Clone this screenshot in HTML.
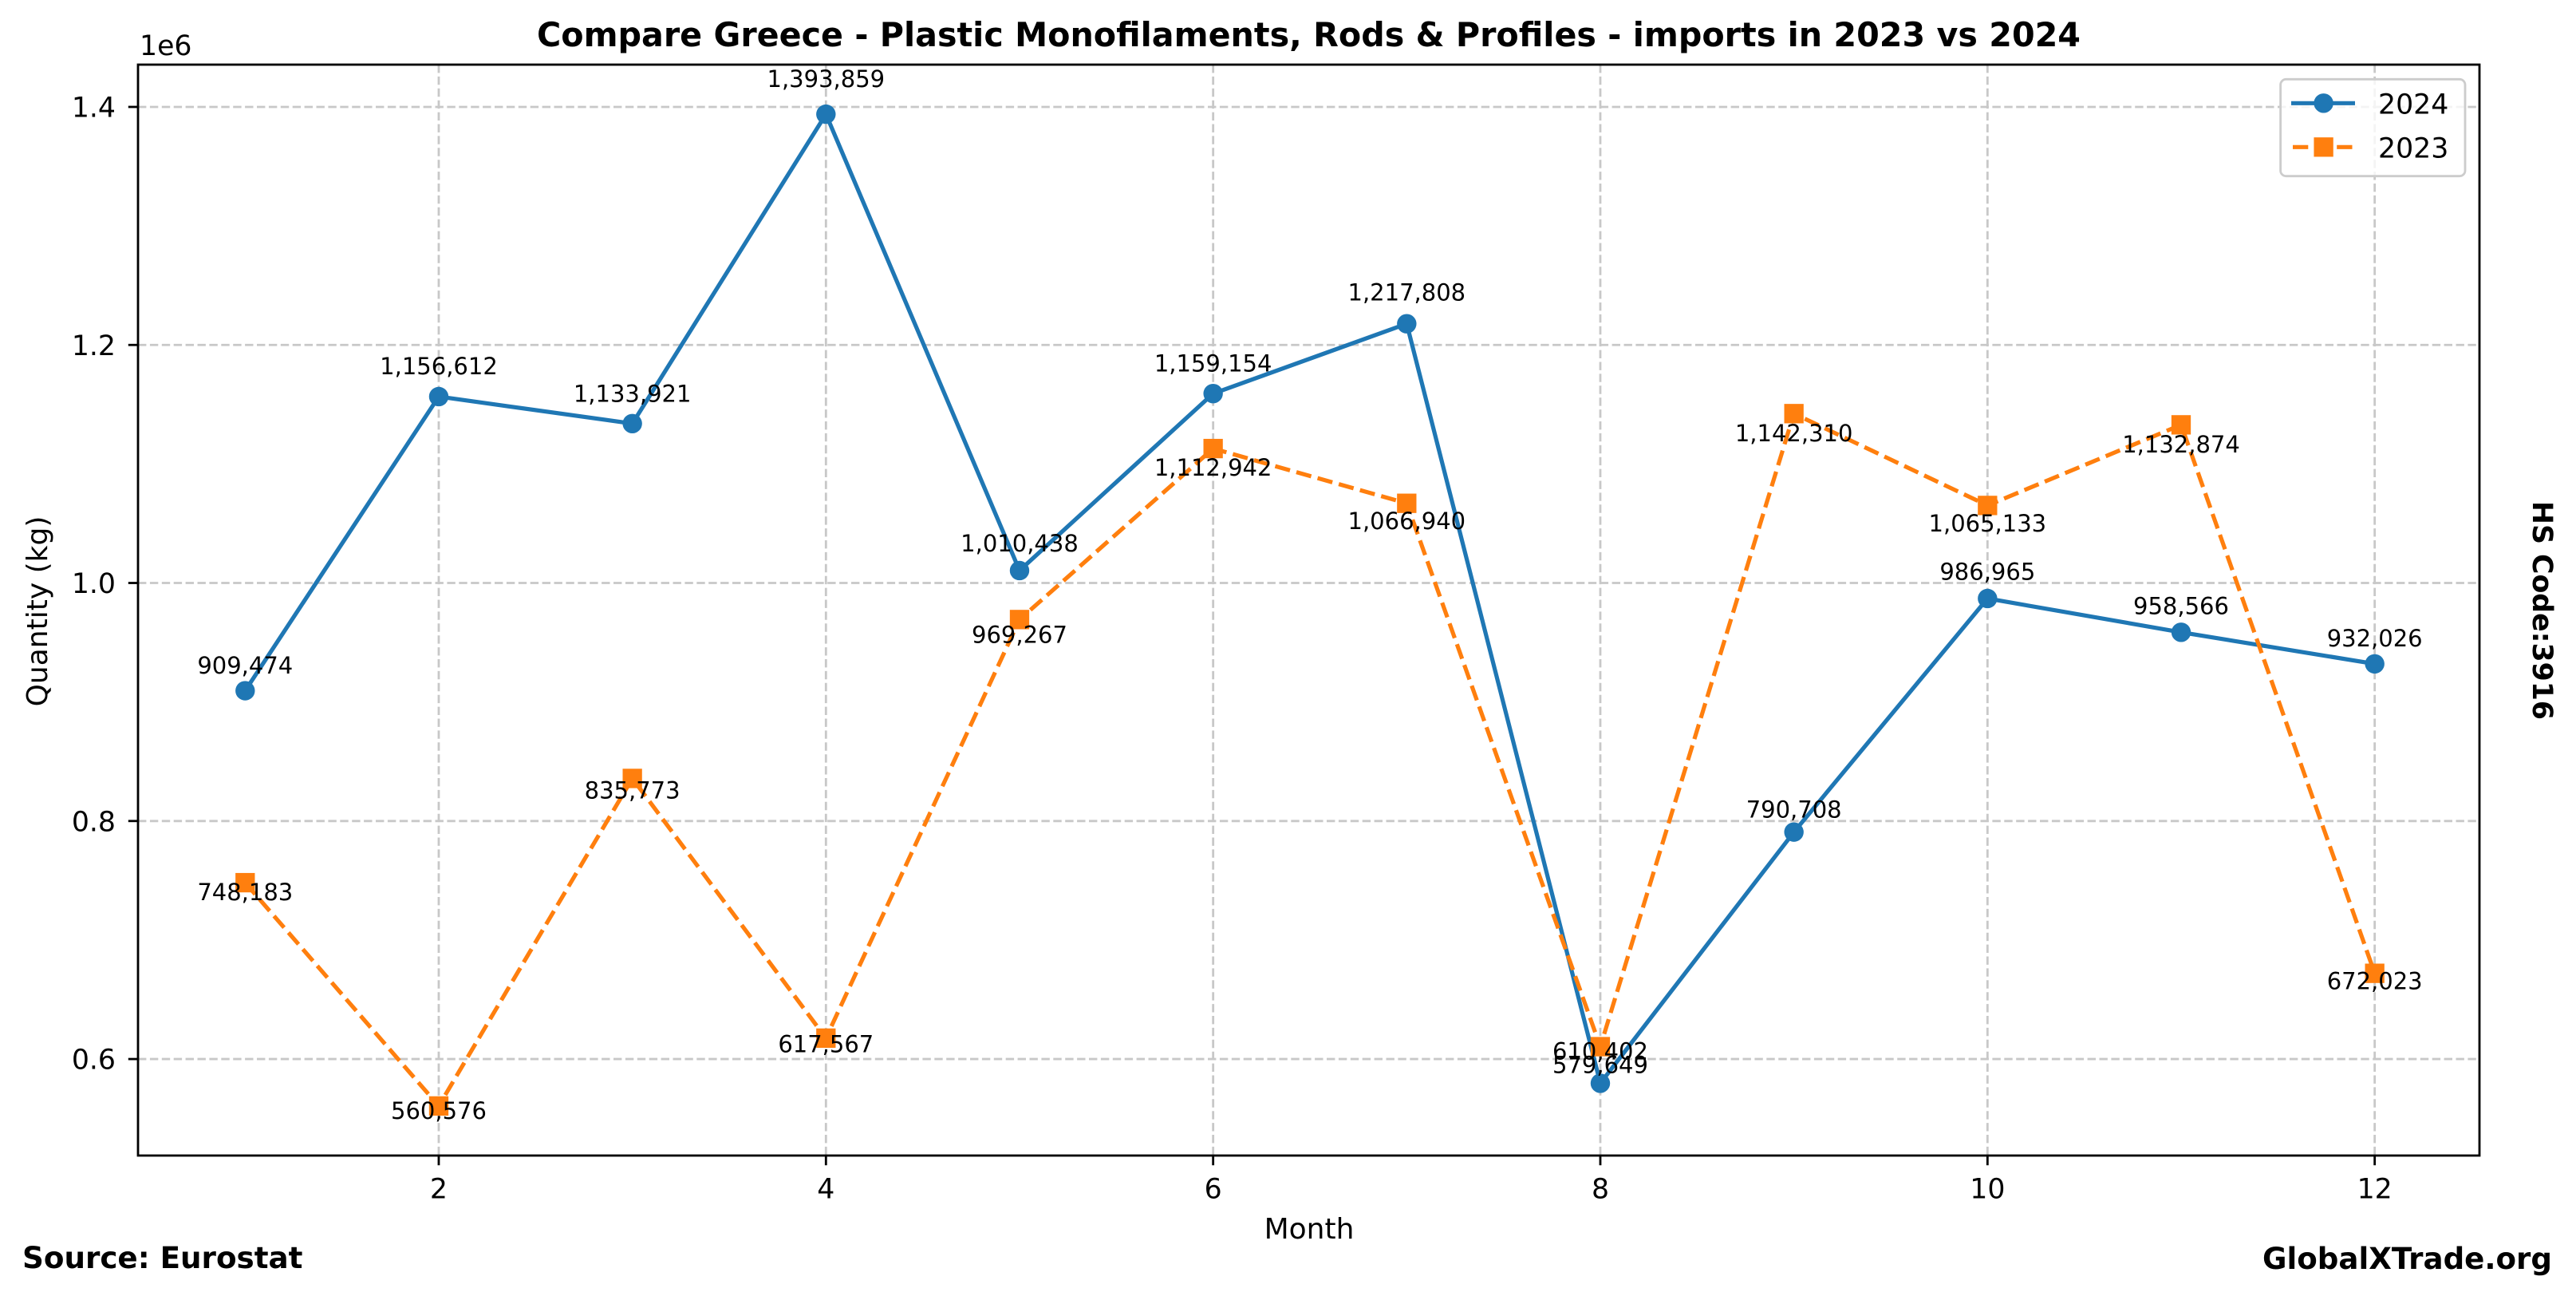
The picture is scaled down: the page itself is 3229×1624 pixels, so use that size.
<!DOCTYPE html>
<html><head><meta charset="utf-8"><style>
html,body{margin:0;padding:0;background:#fff;}
svg{display:block;}
text{font-family:"DejaVu Sans","Liberation Sans",sans-serif;}
</style></head><body>
<svg xmlns="http://www.w3.org/2000/svg" width="3229" height="1624" viewBox="0 0 3229 1624">
<rect width="3229" height="1624" fill="#fff"/>
<!-- grid -->
<g stroke="#c8c8c8" stroke-width="2.8" stroke-dasharray="10.4 4.5" fill="none">
<line x1="549.97" y1="81" x2="549.97" y2="1448"/>
<line x1="1035.31" y1="81" x2="1035.31" y2="1448"/>
<line x1="1520.65" y1="81" x2="1520.65" y2="1448"/>
<line x1="2005.99" y1="81" x2="2005.99" y2="1448"/>
<line x1="2491.33" y1="81" x2="2491.33" y2="1448"/>
<line x1="2976.67" y1="81" x2="2976.67" y2="1448"/>
<line x1="173" y1="1327.07" x2="3108" y2="1327.07"/>
<line x1="173" y1="1028.79" x2="3108" y2="1028.79"/>
<line x1="173" y1="730.52" x2="3108" y2="730.52"/>
<line x1="173" y1="432.25" x2="3108" y2="432.25"/>
<line x1="173" y1="133.98" x2="3108" y2="133.98"/>
</g>
<!-- 2024 -->
<polyline fill="none" stroke="#1f77b4" stroke-width="5.2" stroke-linejoin="round" stroke-linecap="square" points="307.3,865.53 549.97,496.96 792.64,530.80 1035.31,143.13 1277.98,714.96 1520.65,493.17 1763.32,405.69 2005.99,1357.42 2248.66,1042.65 2491.33,749.96 2734.0,792.31 2976.67,831.89"/>
<g fill="#1f77b4">
<circle cx="307.3" cy="865.53" r="12.2"/>
<circle cx="549.97" cy="496.96" r="12.2"/>
<circle cx="792.64" cy="530.80" r="12.2"/>
<circle cx="1035.31" cy="143.13" r="12.2"/>
<circle cx="1277.98" cy="714.96" r="12.2"/>
<circle cx="1520.65" cy="493.17" r="12.2"/>
<circle cx="1763.32" cy="405.69" r="12.2"/>
<circle cx="2005.99" cy="1357.42" r="12.2"/>
<circle cx="2248.66" cy="1042.65" r="12.2"/>
<circle cx="2491.33" cy="749.96" r="12.2"/>
<circle cx="2734.0" cy="792.31" r="12.2"/>
<circle cx="2976.67" cy="831.89" r="12.2"/>
</g>
<!-- 2023 -->
<polyline fill="none" stroke="#ff7f0e" stroke-width="5.2" stroke-dasharray="19.3 8.3" stroke-linejoin="round" points="307.3,1106.07 549.97,1385.86 792.64,975.44 1035.31,1300.86 1277.98,776.35 1520.65,562.08 1763.32,630.69 2005.99,1311.55 2248.66,518.29 2491.33,633.38 2734.0,532.36 2976.67,1219.65"/>
<g fill="#ff7f0e">
<rect x="295.15" y="1093.92" width="24.3" height="24.3"/>
<rect x="537.82" y="1373.71" width="24.3" height="24.3"/>
<rect x="780.49" y="963.29" width="24.3" height="24.3"/>
<rect x="1023.16" y="1288.71" width="24.3" height="24.3"/>
<rect x="1265.83" y="764.2" width="24.3" height="24.3"/>
<rect x="1508.5" y="549.93" width="24.3" height="24.3"/>
<rect x="1751.17" y="618.54" width="24.3" height="24.3"/>
<rect x="1993.84" y="1299.4" width="24.3" height="24.3"/>
<rect x="2236.51" y="506.14" width="24.3" height="24.3"/>
<rect x="2479.18" y="621.23" width="24.3" height="24.3"/>
<rect x="2721.85" y="520.21" width="24.3" height="24.3"/>
<rect x="2964.52" y="1207.5" width="24.3" height="24.3"/>
</g>
<!-- data labels -->
<g font-size="29" text-anchor="middle" fill="#000">
<text x="307.3" y="844.1">909,474</text>
<text x="549.97" y="469.1">1,156,612</text>
<text x="792.64" y="503.5">1,133,921</text>
<text x="1035.31" y="109.2">1,393,859</text>
<text x="1277.98" y="690.9">1,010,438</text>
<text x="1520.65" y="465.3">1,159,154</text>
<text x="1763.32" y="376.3">1,217,808</text>
<text x="2005.99" y="1344.5">579,649</text>
<text x="2248.66" y="1024.3">790,708</text>
<text x="2491.33" y="726.5">986,965</text>
<text x="2734.0" y="769.6">958,566</text>
<text x="2976.67" y="809.8">932,026</text>
<text x="307.3" y="1128.2">748,183</text>
<text x="549.97" y="1401.8">560,576</text>
<text x="792.64" y="1000.4">835,773</text>
<text x="1035.31" y="1318.7">617,567</text>
<text x="1277.98" y="805.7">969,267</text>
<text x="1520.65" y="596.1">1,112,942</text>
<text x="1763.32" y="663.2">1,066,940</text>
<text x="2005.99" y="1327.5">610,402</text>
<text x="2248.66" y="553.2">1,142,310</text>
<text x="2491.33" y="665.8">1,065,133</text>
<text x="2734.0" y="567.0">1,132,874</text>
<text x="2976.67" y="1239.3">672,023</text>
</g>
<!-- spines -->
<rect x="173" y="81" width="2935" height="1367" fill="none" stroke="#000" stroke-width="2.8"/>
<!-- ticks -->
<g stroke="#000" stroke-width="2.8">
<line x1="549.97" y1="1448" x2="549.97" y2="1460.2"/>
<line x1="1035.31" y1="1448" x2="1035.31" y2="1460.2"/>
<line x1="1520.65" y1="1448" x2="1520.65" y2="1460.2"/>
<line x1="2005.99" y1="1448" x2="2005.99" y2="1460.2"/>
<line x1="2491.33" y1="1448" x2="2491.33" y2="1460.2"/>
<line x1="2976.67" y1="1448" x2="2976.67" y2="1460.2"/>
<line x1="160.8" y1="1327.07" x2="173" y2="1327.07"/>
<line x1="160.8" y1="1028.79" x2="173" y2="1028.79"/>
<line x1="160.8" y1="730.52" x2="173" y2="730.52"/>
<line x1="160.8" y1="432.25" x2="173" y2="432.25"/>
<line x1="160.8" y1="133.98" x2="173" y2="133.98"/>
</g>
<g font-size="34.7" fill="#000" text-anchor="middle">
<text x="549.97" y="1501.5">2</text>
<text x="1035.31" y="1501.5">4</text>
<text x="1520.65" y="1501.5">6</text>
<text x="2005.99" y="1501.5">8</text>
<text x="2491.33" y="1501.5">10</text>
<text x="2976.67" y="1501.5">12</text>
</g>
<g font-size="34.7" fill="#000" text-anchor="end">
<text x="145" y="1339.7">0.6</text>
<text x="145" y="1041.4">0.8</text>
<text x="145" y="743.2">1.0</text>
<text x="145" y="444.9">1.2</text>
<text x="145" y="146.6">1.4</text>
</g>
<text x="175" y="69" font-size="34.7" fill="#000">1e6</text>
<!-- axis labels -->
<text x="1641" y="1552" font-size="36" text-anchor="middle" fill="#000">Month</text>
<text transform="translate(59,766) rotate(-90)" font-size="36" text-anchor="middle" fill="#000">Quantity (kg)</text>
<!-- title -->
<text x="1640.5" y="58" font-size="41.7" font-weight="bold" text-anchor="middle" fill="#000" textLength="1935" lengthAdjust="spacingAndGlyphs">Compare Greece - Plastic Monofilaments, Rods &amp; Profiles - imports in 2023 vs 2024</text>
<!-- side texts -->
<text transform="translate(3175,765) rotate(90)" font-size="34.7" font-weight="bold" text-anchor="middle" fill="#000">HS Code:3916</text>
<text x="28" y="1589" font-size="37.5" font-weight="bold" fill="#000" textLength="351.5" lengthAdjust="spacingAndGlyphs">Source: Eurostat</text>
<text x="3199" y="1590" font-size="37.5" font-weight="bold" text-anchor="end" fill="#000" textLength="363" lengthAdjust="spacingAndGlyphs">GlobalXTrade.org</text>
<!-- legend -->
<rect x="2858.6" y="99.3" width="231.4" height="121.4" rx="7" ry="7" fill="#fff" fill-opacity="0.8" stroke="#cccccc" stroke-width="2.8"/>
<line x1="2872" y1="129.3" x2="2952" y2="129.3" stroke="#1f77b4" stroke-width="5.2"/>
<circle cx="2912.6" cy="129.3" r="12.2" fill="#1f77b4"/>
<line x1="2874" y1="184.3" x2="2950" y2="184.3" stroke="#ff7f0e" stroke-width="5.2" stroke-dasharray="19.3 8.3"/>
<rect x="2900.45" y="172.15" width="24.3" height="24.3" fill="#ff7f0e"/>
<text x="2981" y="142.7" font-size="34.7" fill="#000">2024</text>
<text x="2981" y="197.7" font-size="34.7" fill="#000">2023</text>
</svg>
</body></html>
